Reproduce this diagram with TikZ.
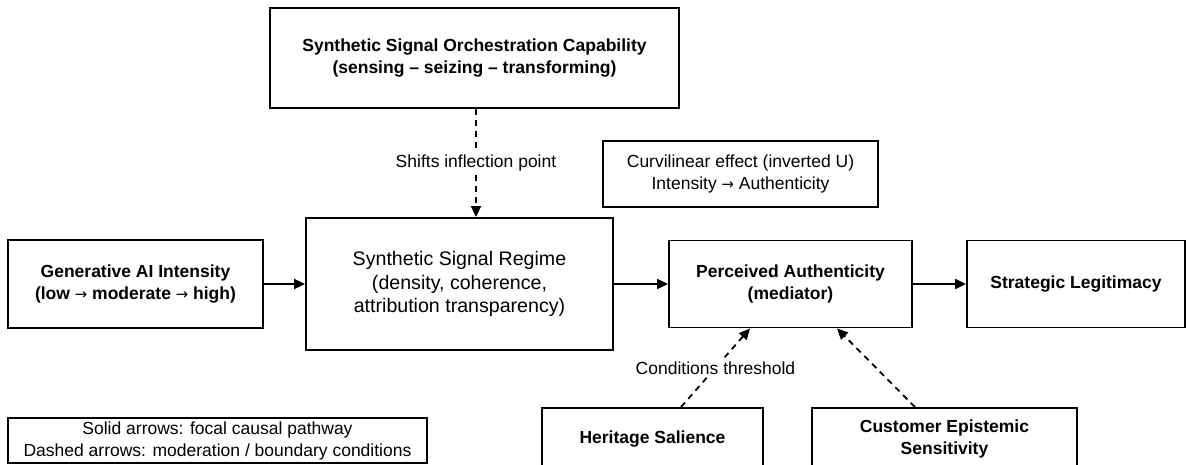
\documentclass[tikz,border=0pt]{standalone}
\usepackage{fontspec}
\setmainfont{Liberation Sans}
\newfontfamily\arrowfont[Scale=0.85]{DejaVu Sans}
\newcommand{\toarrow}{{\arrowfont\mdseries →}}
\usetikzlibrary{arrows.meta,positioning}

\begin{document}
\begin{tikzpicture}[x=1pt,y=-1pt,on grid,
	font=\fontsize{17.5}{22}\selectfont,
	box/.style={draw,line width=1.8pt,align=center,inner sep=0pt},
	keybox/.style={box,font=\fontsize{17.5}{22}\selectfont\bfseries},
	flow/.style={line width=1.8pt,-{Triangle[length=11pt,width=10pt]}},
	moder/.style={flow,dash pattern=on 6pt off 5pt},
	tag/.style={fill=white,inner sep=2pt}]
	\useasboundingbox (0,0) rectangle (1187,465);
	\node[keybox,minimum width=255pt,minimum height=88pt](gen) at (135.5,284) {Generative AI Intensity\\(low \toarrow{} moderate \toarrow{} high)};
	\node[box,minimum width=307pt,minimum height=132pt,font=\fontsize{19.6}{23.5}\selectfont](regime)[right=324pt of gen] {Synthetic Signal Regime\\(density, coherence,\\attribution transparency)};
	\node[keybox,minimum width=243pt,minimum height=87pt](pa)[right=331pt of regime] {Perceived Authenticity\\(mediator)};
	\node[keybox,minimum width=218pt,minimum height=87pt](legit)[right=285.5pt of pa] {Strategic Legitimacy};
	\node[keybox,minimum width=409pt,minimum height=100pt](orch) at (474.5,58) {Synthetic Signal Orchestration Capability\\(sensing – seizing – transforming)};
	\node[box,minimum width=275pt,minimum height=66pt](curv) at (740.5,174) {Curvilinear effect (inverted U)\\Intensity \toarrow{} Authenticity};
	\node[keybox,minimum width=221pt,minimum height=62pt](heritage) at (652.5,439) {Heritage Salience};
	\node[keybox,minimum width=265pt,minimum height=62pt](customer) at (944.5,439) {Customer Epistemic\\Sensitivity};
	\node[box,minimum width=419pt,minimum height=45pt](legend) at (217.5,440.5) {Solid arrows: focal causal pathway\\Dashed arrows: moderation / boundary conditions};
	% causal chain
	\draw[flow] (gen) -- (regime);
	\draw[flow] (regime.east |- pa) -- (pa);
	\draw[flow] (pa) -- (legit);
	% moderators
	\draw[moder] ([xshift=1.5pt]orch.south) -- node[tag] {Shifts inflection point} ([xshift=1.5pt]orch.south |- regime.north);
	\draw[moder] ([xshift=28.5pt]heritage.north) -- node[tag] {Conditions threshold} ([xshift=-40.5pt]pa.south);
	\draw[moder] ([xshift=-29.5pt]customer.north) -- ([xshift=46.5pt]pa.south);
\end{tikzpicture}
\end{document}
